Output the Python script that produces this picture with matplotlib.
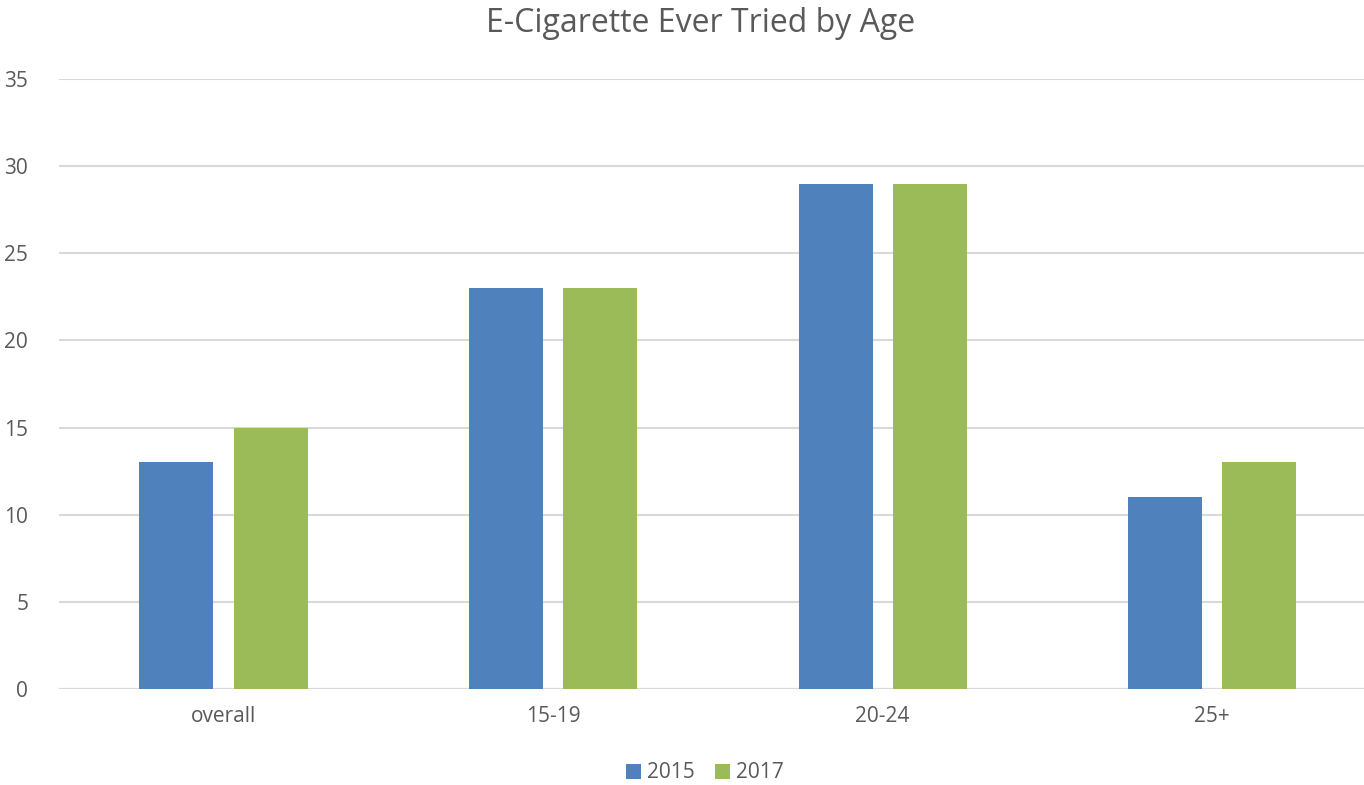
import numpy as np
import matplotlib.pyplot as plt

categories = ["overall", "15-19", "20-24", "25+"]
series_names = ["2015", "2017"]
values_2015 = [13, 23, 29, 11]
values_2017 = [15, 23, 29, 13]

plt.rcParams['font.family'] = ['Open Sans', 'DejaVu Sans']
text_col = '#595959'
colors = ['#4F81BD', '#9BBB59']

fig = plt.figure(figsize=(13.64, 7.85), dpi=100)
ax = fig.add_axes([58.75/1364, 96/785, 1 - 58.75/1364, 610/785])

x = np.arange(len(categories))
width = 0.2246
offset = 0.1427
ax.bar(x - offset, values_2015, width, color=colors[0], label=series_names[0], zorder=3)
ax.bar(x + offset, values_2017, width, color=colors[1], label=series_names[1], zorder=3)

ax.set_xlim(-0.5, 3.461)
ax.set_ylim(0, 35)
ax.set_yticks(np.arange(0, 36, 5))
ax.set_xticks(x)
ax.set_xticklabels(categories)
ax.grid(axis='y', color='#D9D9D9', linewidth=1.5, zorder=0)
for s in ax.spines.values():
    s.set_visible(False)
ax.axhline(0, color='#D9D9D9', linewidth=1.5, zorder=2)
ax.tick_params(axis='both', length=0, labelsize=15, labelcolor=text_col)
ax.tick_params(axis='y', pad=22)
ax.tick_params(axis='x', pad=12)

fig.text(701/1364, 1 - 24/785, "E-Cigarette Ever Tried by Age", ha='center', va='center',
         fontsize=23, color=text_col)

fig.legend(loc='center', bbox_to_anchor=(705/1364, 1 - 773/785), ncol=2, frameon=False,
           fontsize=15, labelcolor=text_col, handlelength=0.7, handleheight=0.7,
           handletextpad=0.3, columnspacing=1.0)

fig.savefig("out.png", dpi=100)
